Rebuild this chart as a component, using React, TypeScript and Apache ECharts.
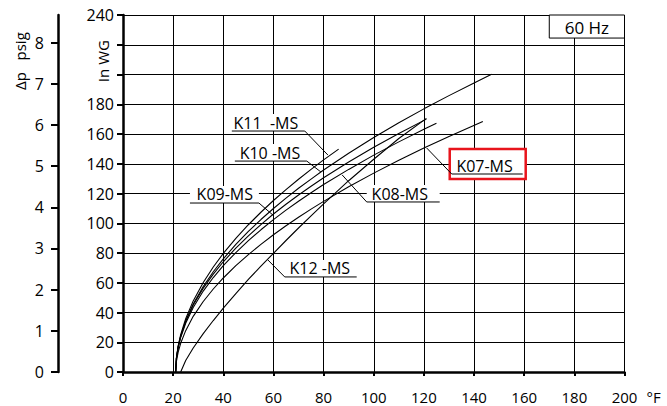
import React, { useEffect, useRef } from "react";
import * as echarts from "echarts";

// ---------- data ----------
const X_LABEL_VALUES = [0, 20, 40, 60, 80, 100, 120, 140, 160, 180, 200];
const Y_LABEL_VALUES = [0, 20, 40, 60, 80, 100, 120, 140, 160, 180, 240];
const PSIG_VALUES = [0, 1, 2, 3, 4, 5, 6, 7, 8];
const INWG_PER_PSI = 27.68;

const K11_X = [21, 21.3, 22, 23, 25, 28, 32, 36, 40, 45, 50, 55, 60, 65, 70, 75, 80, 86];
const K11_Y = [0, 9.5, 17.6, 25.1, 35.8, 47.8, 60.2, 70.6, 79.7, 89.8, 99.0, 107.4, 115.3, 122.6, 129.6, 136.2, 142.6, 149.8];

const K10_X = [21, 21.3, 22, 23, 25, 28, 32, 36, 40, 45, 50, 55, 60, 65, 70, 75, 80, 90, 100, 110, 120, 130, 140, 147];
const K10_Y = [0, 9.1, 16.9, 24.1, 34.3, 45.7, 57.5, 67.4, 76.1, 85.8, 94.5, 102.5, 109.9, 116.9, 123.5, 129.7, 135.8, 147.1, 157.6, 167.5, 176.9, 185.8, 194.3, 200.1];

const K09_X = [21, 21.3, 22, 23, 25, 28, 32, 36, 40, 45, 50, 55, 60, 65, 70, 75, 80, 90, 100, 110, 121];
const K09_Y = [0, 9.3, 17.0, 24.0, 34.0, 45.0, 56.4, 65.8, 74.1, 83.3, 91.5, 99.1, 106.2, 112.8, 119.0, 124.9, 130.6, 141.2, 151.1, 160.4, 170.0];

const K08_X = [21, 21.3, 22, 23, 25, 28, 32, 36, 40, 45, 50, 55, 60, 65, 70, 75, 80, 90, 100, 110, 120, 125];
const K08_Y = [0, 9.0, 16.4, 23.2, 32.8, 43.4, 54.4, 63.5, 71.5, 80.3, 88.3, 95.6, 102.4, 108.8, 114.8, 120.5, 126.0, 136.2, 145.8, 154.7, 163.2, 167.2];

const K07_X = [21, 21.3, 22, 23, 25, 28, 32, 36, 40, 45, 50, 55, 60, 65, 70, 75, 80, 90, 100, 110, 120, 130, 143.5];
const K07_Y = [0, 7.1, 13.4, 19.3, 27.8, 37.4, 47.4, 55.8, 63.2, 71.5, 78.9, 85.8, 92.3, 98.3, 104.0, 109.5, 114.7, 124.5, 133.7, 142.4, 150.6, 158.4, 168.4];

const K12_X = [23, 25, 28, 32, 36, 40, 45, 50, 55, 60, 65, 70, 75, 80, 90, 100, 110, 121];
const K12_Y = [0, 7.7, 16.1, 25.8, 34.6, 42.9, 52.7, 62.2, 71.2, 79.8, 88.4, 96.8, 105.0, 113.0, 128.6, 143.0, 157.0, 170.5];

const CURVES = [
  { name: "K11-MS", x: K11_X, y: K11_Y },
  { name: "K10-MS", x: K10_X, y: K10_Y },
  { name: "K09-MS", x: K09_X, y: K09_Y },
  { name: "K08-MS", x: K08_X, y: K08_Y },
  { name: "K07-MS", x: K07_X, y: K07_Y },
  { name: "K12-MS", x: K12_X, y: K12_Y },
];

// annotation anchors (data units)
const CALLOUTS = [
  { text: "K11  -MS", tx: 57.0, ty: 167.4, ulY: 162.0, ulX0: 43.4, ulX1: 72.5, fromEnd: true, to: [81.7, 145.9] },
  { text: "K10 -MS", tx: 58.6, ty: 147.2, ulY: 141.8, ulX0: 44.6, ulX1: 73.3, fromEnd: true, to: [78.9, 134.5] },
  { text: "K09-MS", tx: 40.6, ty: 119.7, ulY: 113.6, ulX0: 26.7, ulX1: 54.2, fromEnd: true, to: [59.8, 105.5] },
  { text: "K08-MS", tx: 110.4, ty: 119.7, ulY: 114.3, ulX0: 97.2, ulX1: 126.3, fromEnd: false, to: [87.4, 132.5] },
  { text: "K07-MS", tx: 144.2, ty: 138.5, ulY: 133.1, ulX0: 131.1, ulX1: 159.4, fromEnd: false, to: [121.1, 150.6] },
  { text: "K12 -MS", tx: 78.5, ty: 69.9, ulY: 63.9, ulX0: 64.5, ulX1: 93.2, fromEnd: false, to: [57.8, 75.3] },
];
const HIGHLIGHT_BOX = { x0: 130.3, y0: 149.9, x1: 160.6, y1: 129.7 };
const FREQ_BOX = { text: "60 Hz", x0: 170, y0: 240, x1: 200, y1: 224.5 };

const FONT = "'Open Sans', 'Noto Sans', sans-serif";
const INK = "#000";

export default function App() {
  const ref = useRef<HTMLDivElement>(null);

  useEffect(() => {
    if (!ref.current) return;
    const chart = echarts.init(ref.current, undefined, { renderer: "svg" });

    const option: any = {
      animation: false,
      backgroundColor: "#fff",
      grid: { left: 123, right: 42.5, top: 15, bottom: 34, containLabel: false },
      xAxis: {
        type: "value",
        min: 0,
        max: 200,
        interval: 10,
        name: "°F",
        nameLocation: "end",
        nameGap: 22,
        nameTextStyle: {
          fontFamily: FONT,
          fontSize: 15,
          color: INK,
          verticalAlign: "top",
          align: "left",
          padding: [17, 0, 0, 0],
        },
        axisLine: { show: true, lineStyle: { color: "#000", width: 2.5 } },
        axisTick: {
          show: true,
          length: 4,
          customValues: X_LABEL_VALUES,
          lineStyle: { color: "#000", width: 2 },
        },
        axisLabel: {
          customValues: X_LABEL_VALUES,
          margin: 17,
          fontFamily: FONT,
          fontSize: 15,
          color: INK,
        },
        splitLine: { show: true, lineStyle: { color: "#000", width: 1 } },
      },
      yAxis: [
        {
          type: "value",
          position: "left",
          min: 0,
          max: 240,
          interval: 20,
          axisLine: { show: true, lineStyle: { color: "#000", width: 2.5 } },
          axisTick: { show: true, length: 6, lineStyle: { color: "#000", width: 2 } },
          axisLabel: {
            customValues: Y_LABEL_VALUES,
            margin: 9,
            fontFamily: FONT,
            fontSize: 16,
            color: INK,
          },
          splitLine: { show: true, lineStyle: { color: "#000", width: 1 } },
        },
        {
          type: "value",
          position: "left",
          offset: 65,
          min: 0,
          max: 240 / INWG_PER_PSI,
          interval: 1,
          axisLine: { show: true, onZero: false, lineStyle: { color: "#000", width: 2.5 } },
          axisTick: {
            show: true,
            length: 7,
            customValues: PSIG_VALUES,
            lineStyle: { color: "#000", width: 2 },
          },
          axisLabel: {
            customValues: PSIG_VALUES,
            margin: 14,
            fontFamily: FONT,
            fontSize: 16,
            color: INK,
          },
          splitLine: { show: false },
        },
      ],
      series: CURVES.map((c) => ({
        name: c.name,
        type: "line",
        xAxisIndex: 0,
        yAxisIndex: 0,
        data: c.x.map((xv, i) => [xv, c.y[i]]),
        showSymbol: false,
        symbol: "none",
        smooth: false,
        lineStyle: { color: "#000", width: 1.1 },
        z: 3,
      })),
    };
    chart.setOption(option);

    const px = (x: number, y: number) =>
      chart.convertToPixel({ xAxisIndex: 0, yAxisIndex: 0 }, [x, y]) as number[];

    const g: any[] = [];
    const textStyle = (text: string, x: number, y: number, size: number) => ({
      text,
      x,
      y,
      fill: INK,
      fontFamily: FONT,
      fontSize: size,
      textAlign: "center",
      align: "center",
      textVerticalAlign: "middle",
      verticalAlign: "middle",
    });

    // 60 Hz box
    {
      const a = px(FREQ_BOX.x0, FREQ_BOX.y0);
      const b = px(FREQ_BOX.x1, FREQ_BOX.y1);
      g.push({
        type: "rect",
        z: 100,
        shape: { x: a[0], y: a[1], width: b[0] - a[0], height: b[1] - a[1] },
        style: { fill: "#fff", stroke: "#000", lineWidth: 1 },
      });
      g.push({
        type: "text",
        z: 101,
        style: textStyle(FREQ_BOX.text, (a[0] + b[0]) / 2, (a[1] + b[1]) / 2 + 1, 17),
      });
    }

    // highlight box
    const hb0 = px(HIGHLIGHT_BOX.x0, HIGHLIGHT_BOX.y0);
    const hb1 = px(HIGHLIGHT_BOX.x1, HIGHLIGHT_BOX.y1);
    g.push({
      type: "rect",
      z: 100,
      shape: { x: hb0[0], y: hb0[1], width: hb1[0] - hb0[0], height: hb1[1] - hb0[1] },
      style: { fill: "#fff", stroke: "#e8141c", lineWidth: 2.5 },
    });

    CALLOUTS.forEach((c) => {
      const u0 = px(c.ulX0, c.ulY);
      const u1 = px(c.ulX1, c.ulY);
      const t = px(c.tx, c.ty);
      const tgt = px(c.to[0], c.to[1]);
      g.push({
        type: "rect",
        z: 101,
        shape: { x: u0[0], y: u0[1] - 17, width: u1[0] - u0[0], height: 17 },
        style: { fill: "#fff" },
      });
      g.push({ type: "text", z: 102, style: textStyle(c.text, t[0], t[1], 16) });
      g.push({
        type: "line",
        z: 102,
        shape: { x1: u0[0], y1: u0[1], x2: u1[0], y2: u1[1] },
        style: { stroke: "#000", lineWidth: 1 },
      });
      const s = c.fromEnd ? u1 : u0;
      g.push({
        type: "line",
        z: 102,
        shape: { x1: s[0], y1: s[1], x2: tgt[0], y2: tgt[1] },
        style: { stroke: "#000", lineWidth: 1 },
      });
    });

    // rotated axis titles
    const inwg = px(0, 209);
    g.push({
      type: "text",
      z: 100,
      x: inwg[0] - 20,
      y: inwg[1],
      rotation: Math.PI / 2,
      style: textStyle("In WG", 0, 0, 15),
    });
    g.push({
      type: "text",
      z: 100,
      x: 20,
      y: inwg[1],
      rotation: Math.PI / 2,
      style: textStyle("Δp   psig", 0, 0, 15),
    });

    chart.setOption({ graphic: { elements: g } });

    return () => chart.dispose();
  }, []);

  return (
    <div
      ref={ref}
      style={{ position: "absolute", left: 0, top: 0, width: 667, height: 406 }}
    />
  );
}
